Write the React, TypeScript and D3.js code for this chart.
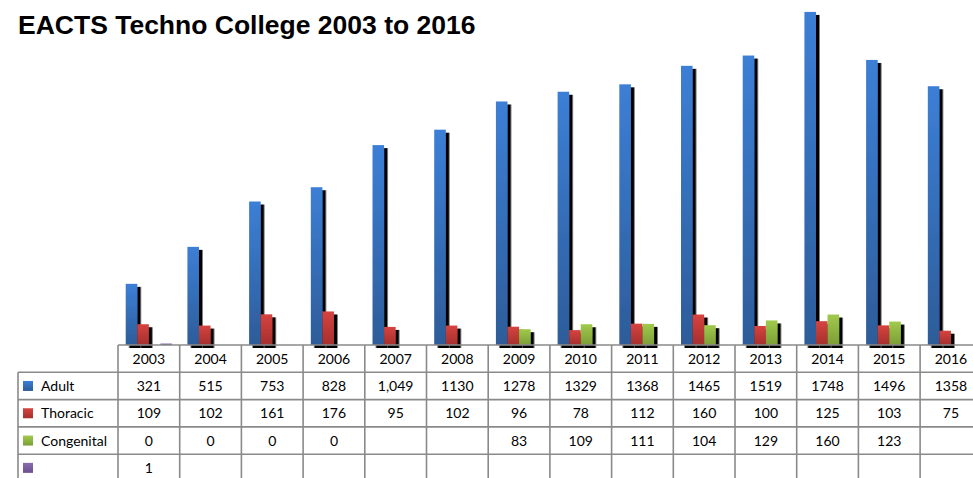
import React from 'react';
import * as d3 from 'd3';

const years = ['2003', '2004', '2005', '2006', '2007', '2008', '2009', '2010', '2011', '2012', '2013', '2014', '2015', '2016'];
const seriesNames = ['Adult', 'Thoracic', 'Congenital', ''];
const adult = [321, 515, 753, 828, 1049, 1130, 1278, 1329, 1368, 1465, 1519, 1748, 1496, 1358];
const thoracic = [109, 102, 161, 176, 95, 102, 96, 78, 112, 160, 100, 125, 103, 75];
const congenital = [0, 0, 0, 0, null, null, 83, 109, 111, 104, 129, 160, 123, null];
const other = [1, null, null, null, null, null, null, null, null, null, null, null, null, null];
// table labels as printed in the source
const adultLabels = ['321', '515', '753', '828', '1,049', '1130', '1278', '1329', '1368', '1465', '1519', '1748', '1496', '1358'];

const allSeries: (number | null)[][] = [adult, thoracic, congenital, other];
const colors = [
  ['#3c7fd6', '#2d5c99'],
  ['#d6433f', '#a52f2d'],
  ['#a0ca4c', '#7c9e37'],
  ['#8a6bb0', '#6b4f8f'],
];

const W = 973;
const H = 478;

export default function App() {
  const colW = 61.7;
  const tableX = 118;
  const legendX = 18;
  const baseY = 345;
  const rowH = 27.3;
  const x = d3.scaleBand<string>().domain(years).range([tableX, tableX + colW * years.length]).paddingInner(0.25).paddingOuter(0.125);
  const xs = d3.scaleBand<number>().domain([0, 1, 2, 3]).range([0, x.bandwidth()]);
  const y = d3.scaleLinear().domain([0, 1800]).range([baseY, 2]);
  const tableEnd = tableX + colW * years.length;
  const rows = [adultLabels, thoracic.map(String), congenital.map(v => (v == null ? '' : String(v))), other.map(v => (v == null ? '' : String(v)))];
  const font = 'Lato, "Open Sans", sans-serif';
  const grid = '#8a8a8a';

  return (
    <div style={{ position: 'fixed', left: 0, top: 0 }}>
      <svg width={W} height={H} style={{ display: 'block', background: '#fff' }}>
        <defs>
          {colors.map((c, i) => (
            <linearGradient key={i} id={`g${i}`} x1="0" y1="0" x2="0" y2="1">
              <stop offset="0%" stopColor={c[0]} />
              <stop offset="100%" stopColor={c[1]} />
            </linearGradient>
          ))}
          <filter id="sh" x="-50%" y="-10%" width="200%" height="130%">
            <feDropShadow dx="3.5" dy="3" stdDeviation="0.7" floodColor="#000" floodOpacity="1" />
          </filter>
        </defs>
        <text x={18} y={34} fontFamily="'Liberation Sans', Arial, sans-serif" fontWeight="bold" fontSize={26.5} fill="#000">
          EACTS Techno College 2003 to 2016
        </text>
        {/* bars */}
        {years.map((yr, i) => (
          <g key={yr}>
            {allSeries.map((s, k) => {
              const v = s[i];
              if (v == null || v === 0) return null;
              const top = y(v);
              const h = Math.max(baseY - top, 1.5);
              return (
                <rect key={k} x={(x(yr) as number) + (xs(k) as number)} y={baseY - h} width={xs.bandwidth()} height={h}
                  fill={`url(#g${k})`} filter="url(#sh)" />
              );
            })}
          </g>
        ))}
        {/* table grid */}
        <g stroke={grid} strokeWidth={1.6} fill="none">
          <line x1={tableX} x2={tableEnd} y1={baseY} y2={baseY} />
          {[1, 2, 3, 4].map(r => (
            <line key={r} x1={legendX} x2={tableEnd} y1={baseY + r * rowH} y2={baseY + r * rowH} />
          ))}
          <line x1={legendX} x2={legendX} y1={baseY + rowH} y2={H} />
          {d3.range(years.length + 1).map(j => (
            <line key={j} x1={tableX + j * colW} x2={tableX + j * colW} y1={baseY} y2={H} />
          ))}
        </g>
        {/* header */}
        {years.map((yr, j) => (
          <text key={yr} x={tableX + (j + 0.5) * colW} y={baseY + rowH / 2 + 5} textAnchor="middle" fontFamily={font} fontSize={14} fill="#000">
            {yr}
          </text>
        ))}
        {/* rows */}
        {rows.map((row, r) => (
          <g key={r}>
            <rect x={23} y={baseY + (r + 1.5) * rowH - 5} width={10} height={10} fill={`url(#g${r})`} />
            <text x={41} y={baseY + (r + 1.5) * rowH + 5} fontFamily={font} fontSize={14} fill="#000">{seriesNames[r]}</text>
            {row.map((t, j) => (
              <text key={j} x={tableX + (j + 0.5) * colW} y={baseY + (r + 1.5) * rowH + 5} textAnchor="middle" fontFamily={font} fontSize={14} fill="#000">
                {t}
              </text>
            ))}
          </g>
        ))}
      </svg>
    </div>
  );
}
